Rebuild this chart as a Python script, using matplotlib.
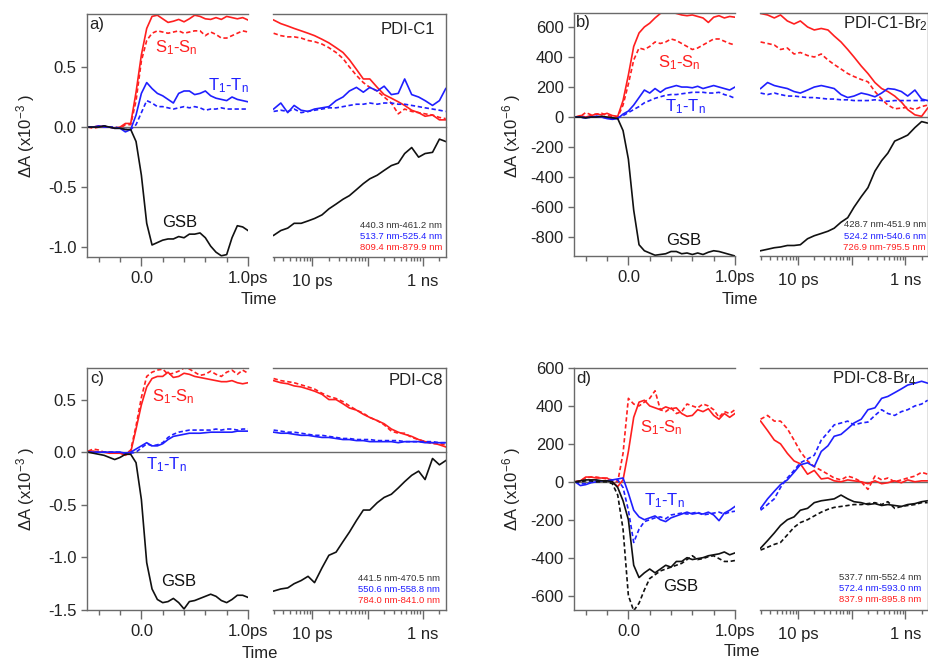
import matplotlib
matplotlib.use('Agg')
import matplotlib.pyplot as plt
from matplotlib.lines import Line2D
from matplotlib.ticker import FixedLocator, LogLocator, NullFormatter, FixedFormatter, NullLocator
import matplotlib.transforms as mtransforms

plt.rcParams['font.family'] = ['Liberation Sans', 'DejaVu Sans']
plt.rcParams['mathtext.default'] = 'regular'
plt.rcParams['axes.unicode_minus'] = False

# ---------------- data ----------------
t_lin = [-0.5, -0.45, -0.4, -0.35, -0.3, -0.25, -0.2, -0.15, -0.1, -0.05, 0.0, 0.05, 0.1, 0.15, 0.2,
         0.25, 0.3, 0.35, 0.4, 0.45, 0.5, 0.55, 0.6, 0.65, 0.7, 0.75, 0.8, 0.85, 0.9, 0.95, 1.0]
t_log = [2.0, 2.7, 3.6, 4.7, 6.3, 8.4, 11, 15, 20, 27, 36, 47, 63, 84, 110, 150, 200, 270, 360, 470,
         630, 840, 1100, 1500, 2000, 2600]

# panel a (x1e-3)
a_red_lin = [0.0, 0.0, 0.01, 0.0, 0.0, -0.01, 0.0, 0.03, 0.03, 0.29, 0.60, 0.82, 0.92, 0.93, 0.90, 0.87, 0.88, 0.895, 0.875, 0.90, 0.93, 0.92, 0.90, 0.895, 0.91, 0.895, 0.92, 0.91, 0.90, 0.91, 0.89]
a_redd_lin = [0.0, -0.01, 0.0, 0.01, 0.0, 0.0, -0.01, 0.02, 0.02, 0.22, 0.55, 0.72, 0.78, 0.80, 0.79, 0.78, 0.79, 0.80, 0.78, 0.79, 0.80, 0.80, 0.76, 0.79, 0.77, 0.74, 0.74, 0.76, 0.78, 0.80, 0.79]
a_blue_lin = [0.0, 0.0, 0.01, 0.0, 0.0, -0.01, -0.01, -0.04, -0.02, 0.10, 0.28, 0.37, 0.32, 0.28, 0.26, 0.23, 0.20, 0.28, 0.30, 0.30, 0.27, 0.28, 0.30, 0.26, 0.24, 0.23, 0.22, 0.25, 0.23, 0.22, 0.21]
a_blued_lin = [0.0, 0.0, 0.0, 0.01, 0.0, 0.0, -0.01, -0.02, -0.02, 0.02, 0.12, 0.22, 0.20, 0.17, 0.17, 0.16, 0.15, 0.16, 0.17, 0.16, 0.17, 0.16, 0.14, 0.15, 0.15, 0.16, 0.15, 0.15, 0.15, 0.15, 0.15]
a_black_lin = [0.0, 0.0, 0.0, 0.01, 0.0, -0.01, -0.01, -0.02, -0.02, -0.12, -0.40, -0.80, -0.98, -0.96, -0.94, -0.93, -0.93, -0.91, -0.92, -0.89, -0.89, -0.88, -0.92, -0.99, -1.04, -1.07, -1.06, -0.92, -0.82, -0.83, -0.86]
a_red_log = [0.89, 0.86, 0.84, 0.82, 0.80, 0.78, 0.76, 0.73, 0.70, 0.66, 0.62, 0.56, 0.48, 0.40, 0.40, 0.33, 0.27, 0.24, 0.21, 0.18, 0.14, 0.12, 0.09, 0.10, 0.06, 0.06]
a_redd_log = [0.78, 0.76, 0.75, 0.75, 0.74, 0.72, 0.71, 0.69, 0.66, 0.62, 0.57, 0.50, 0.43, 0.37, 0.33, 0.30, 0.25, 0.20, 0.11, 0.15, 0.13, 0.12, 0.11, 0.10, 0.08, 0.07]
a_blue_log = [0.15, 0.20, 0.12, 0.18, 0.14, 0.13, 0.15, 0.16, 0.17, 0.22, 0.25, 0.30, 0.33, 0.29, 0.33, 0.30, 0.34, 0.27, 0.28, 0.40, 0.27, 0.25, 0.22, 0.18, 0.22, 0.32]
a_blued_log = [0.13, 0.14, 0.13, 0.15, 0.12, 0.13, 0.14, 0.15, 0.16, 0.16, 0.17, 0.18, 0.19, 0.19, 0.20, 0.19, 0.20, 0.20, 0.19, 0.19, 0.18, 0.17, 0.16, 0.15, 0.14, 0.13]
a_black_log = [-0.90, -0.86, -0.84, -0.80, -0.80, -0.78, -0.76, -0.73, -0.68, -0.64, -0.60, -0.57, -0.52, -0.47, -0.43, -0.40, -0.36, -0.32, -0.30, -0.22, -0.17, -0.25, -0.22, -0.21, -0.10, -0.12]

# panel b (x1e-6)
b_red_lin = [0, 10, 0, 10, 20, 15, 25, 10, 5, 110, 280, 470, 560, 600, 625, 660, 690, 700, 700, 690, 680, 675, 680, 670, 660, 630, 665, 675, 660, 670, 665]
b_redd_lin = [0, 5, 30, 15, 20, 25, 10, 5, 0, 80, 220, 380, 460, 450, 470, 500, 490, 500, 520, 510, 490, 470, 450, 460, 480, 500, 520, 520, 505, 490, 480]
b_blue_lin = [0, 0, -5, 0, 5, 0, -10, -15, -10, 20, 40, 80, 130, 180, 160, 190, 165, 190, 200, 210, 200, 200, 195, 205, 190, 200, 210, 200, 190, 180, 200]
b_blued_lin = [0, 0, -5, 0, 5, 0, -5, -10, -5, 10, 30, 50, 70, 95, 110, 125, 135, 145, 150, 150, 155, 160, 165, 165, 165, 160, 160, 165, 150, 140, 125]
b_black_lin = [0, 0, -5, 0, 0, 5, 0, -5, -10, -90, -280, -620, -850, -890, -905, -920, -915, -910, -895, -895, -910, -905, -915, -905, -915, -900, -890, -895, -905, -915, -925]
b_red_log = [690, 680, 660, 680, 640, 620, 640, 600, 580, 590, 580, 540, 500, 450, 400, 340, 290, 230, 190, 170, 140, 100, 50, 15, 5, 60]
b_redd_log = [500, 490, 480, 450, 460, 420, 430, 410, 400, 420, 380, 350, 320, 290, 270, 250, 235, 170, 120, 80, 55, 60, 65, 50, 70, 80]
b_blue_log = [190, 230, 210, 200, 190, 170, 160, 180, 200, 210, 200, 190, 150, 130, 140, 160, 150, 135, 160, 190, 185, 170, 140, 180, 120, 110]
b_blued_log = [160, 150, 160, 150, 140, 140, 135, 130, 130, 125, 120, 120, 115, 115, 110, 110, 110, 115, 110, 105, 110, 110, 110, 110, 110, 110]
b_black_log = [-890, -880, -870, -865, -855, -855, -850, -810, -790, -775, -760, -740, -700, -670, -600, -530, -470, -360, -290, -240, -160, -140, -120, -70, -30, -40]

# panel c (x1e-3)
c_red_lin = [0.01, 0.01, 0.0, 0.0, -0.01, -0.01, -0.01, -0.03, 0.0, 0.22, 0.45, 0.62, 0.70, 0.72, 0.72, 0.76, 0.71, 0.72, 0.75, 0.74, 0.72, 0.71, 0.70, 0.69, 0.68, 0.67, 0.67, 0.68, 0.66, 0.65, 0.66]
c_redd_lin = [0.01, 0.03, 0.02, 0.0, 0.0, 0.0, -0.01, -0.02, 0.02, 0.25, 0.52, 0.72, 0.76, 0.78, 0.79, 0.74, 0.75, 0.77, 0.80, 0.79, 0.76, 0.73, 0.74, 0.77, 0.74, 0.72, 0.76, 0.78, 0.74, 0.78, 0.75]
c_blue_lin = [0.0, 0.0, 0.0, 0.0, 0.0, 0.0, 0.0, -0.01, 0.0, 0.03, 0.06, 0.09, 0.06, 0.06, 0.08, 0.12, 0.15, 0.16, 0.17, 0.18, 0.18, 0.18, 0.185, 0.19, 0.19, 0.19, 0.19, 0.19, 0.20, 0.20, 0.20]
c_blued_lin = [0.0, 0.0, 0.0, 0.0, 0.0, 0.0, 0.0, -0.01, -0.01, 0.0, 0.04, 0.08, 0.06, 0.07, 0.09, 0.14, 0.17, 0.19, 0.20, 0.21, 0.21, 0.21, 0.21, 0.21, 0.22, 0.21, 0.22, 0.22, 0.21, 0.22, 0.22]
c_black_lin = [0.0, -0.01, -0.02, -0.03, -0.05, -0.07, -0.05, -0.02, -0.02, -0.10, -0.45, -1.05, -1.30, -1.40, -1.43, -1.42, -1.39, -1.43, -1.49, -1.42, -1.41, -1.39, -1.37, -1.35, -1.37, -1.41, -1.43, -1.40, -1.36, -1.36, -1.38]
c_red_log = [0.68, 0.66, 0.65, 0.63, 0.62, 0.60, 0.58, 0.55, 0.50, 0.50, 0.46, 0.42, 0.40, 0.36, 0.33, 0.30, 0.27, 0.22, 0.19, 0.17, 0.15, 0.12, 0.10, 0.09, 0.07, 0.05]
c_redd_log = [0.70, 0.68, 0.67, 0.66, 0.64, 0.62, 0.60, 0.56, 0.53, 0.51, 0.48, 0.44, 0.40, 0.37, 0.33, 0.30, 0.26, 0.20, 0.18, 0.18, 0.14, 0.12, 0.10, 0.08, 0.08, 0.07]
c_blue_log = [0.19, 0.18, 0.18, 0.17, 0.16, 0.16, 0.15, 0.14, 0.14, 0.13, 0.12, 0.12, 0.11, 0.11, 0.10, 0.10, 0.10, 0.10, 0.09, 0.10, 0.10, 0.10, 0.09, 0.09, 0.09, 0.09]
c_blued_log = [0.21, 0.20, 0.19, 0.19, 0.18, 0.17, 0.16, 0.16, 0.15, 0.14, 0.13, 0.13, 0.12, 0.12, 0.12, 0.11, 0.11, 0.11, 0.11, 0.10, 0.10, 0.10, 0.10, 0.10, 0.09, 0.09]
c_black_log = [-1.32, -1.30, -1.29, -1.25, -1.22, -1.18, -1.24, -1.10, -0.98, -0.95, -0.85, -0.76, -0.65, -0.55, -0.55, -0.48, -0.43, -0.40, -0.34, -0.28, -0.22, -0.18, -0.26, -0.06, -0.12, -0.08]

# panel d (x1e-6)
d_red_lin = [0, 5, 25, 25, 20, 20, 20, 0, -25, 10, 160, 340, 420, 430, 400, 390, 380, 395, 385, 390, 360, 345, 350, 380, 370, 385, 350, 330, 360, 340, 360]
d_redd_lin = [0, 5, 20, 25, 25, 20, 15, 10, 0, 150, 440, 410, 400, 420, 440, 480, 380, 370, 390, 360, 370, 410, 400, 390, 410, 400, 380, 340, 370, 360, 380]
d_blue_lin = [0, -20, -15, -5, 0, 5, 5, 10, 15, 20, -60, -150, -185, -200, -190, -180, -200, -210, -190, -180, -170, -160, -170, -165, -170, -160, -175, -205, -165, -150, -130]
d_blued_lin = [0, -10, -10, 0, 5, 5, 5, 10, 10, -30, -150, -320, -250, -210, -200, -190, -185, -195, -175, -170, -165, -170, -165, -160, -175, -170, -165, -160, -170, -160, -155]
d_black_lin = [0, 5, 10, 10, 10, 5, 5, 0, -30, -100, -200, -440, -505, -480, -460, -480, -460, -440, -450, -420, -420, -400, -410, -405, -400, -390, -385, -380, -370, -385, -375]
d_blackd_lin = [0, 0, 5, 5, 0, 0, 0, -10, -70, -250, -600, -680, -640, -570, -510, -490, -470, -460, -450, -440, -430, -410, -390, -410, -405, -395, -390, -405, -420, -420, -415]
d_red_log = [320, 270, 220, 200, 150, 110, 95, 40, 60, 15, 20, 5, 0, 10, 5, 0, -10, 5, -10, -5, 5, -5, 10, 0, 5, 5]
d_redd_log = [330, 350, 320, 320, 280, 220, 160, 110, 80, 60, 40, 20, 10, 30, 20, 0, -40, 30, 10, 20, 0, 10, 20, 30, 50, 40]
d_blue_log = [-140, -90, -50, -15, 10, 50, 90, 100, 80, 160, 190, 240, 250, 280, 310, 330, 380, 390, 440, 450, 470, 490, 510, 520, 530, 520]
d_blued_log = [-150, -120, -90, -30, 20, 60, 100, 120, 140, 220, 260, 300, 310, 320, 300, 310, 315, 350, 380, 360, 350, 370, 380, 400, 410, 430]
d_black_log = [-350, -310, -270, -230, -200, -185, -150, -140, -110, -100, -95, -90, -70, -90, -105, -110, -120, -115, -125, -120, -125, -130, -120, -115, -105, -100]
d_blackd_log = [-360, -345, -330, -320, -280, -240, -215, -200, -180, -160, -145, -135, -130, -125, -120, -120, -115, -110, -120, -105, -140, -130, -125, -120, -110, -110]

a_yticks = [-1.0, -0.5, 0.0, 0.5]
a_yticklabels = ['-1.0', '-0.5', '0.0', '0.5']
b_yticks = [-800, -600, -400, -200, 0, 200, 400, 600]
b_yticklabels = ['-800', '-600', '-400', '-200', '0', '200', '400', '600']
c_yticks = [-1.5, -1.0, -0.5, 0.0, 0.5]
c_yticklabels = ['-1.5', '-1.0', '-0.5', '0.0', '0.5']
d_yticks = [-600, -400, -200, 0, 200, 400, 600]
d_yticklabels = ['-600', '-400', '-200', '0', '200', '400', '600']

lin_ticks = [0.0, 1.0]
lin_ticklabels = ['0.0', '1.0ps']
log_ticks = [10, 100, 1000]
log_ticklabels = ['10 ps', '', '1 ns']

a_legend = ['440.3 nm-461.2 nm', '513.7 nm-525.4 nm', '809.4 nm-879.9 nm']
b_legend = ['428.7 nm-451.9 nm', '524.2 nm-540.6 nm', '726.9 nm-795.5 nm']
c_legend = ['441.5 nm-470.5 nm', '550.6 nm-558.8 nm', '784.0 nm-841.0 nm']
d_legend = ['537.7 nm-552.4 nm', '572.4 nm-593.0 nm', '837.9 nm-895.8 nm']

# ---------------- layout ----------------
W, H = 929, 660
RED = '#ff1f1f'
BLUE = '#1f1fff'
BLACK = '#111111'
FRAME = '#6a6a6a'
FS = 12
DASH = (0, (2.6, 1.6))

fig = plt.figure(figsize=(W / 100, H / 100), dpi=100)


def rect(x0, x1, y0, y1):
    return [x0 / W, 1 - y1 / H, (x1 - x0) / W, (y1 - y0) / H]


panels = [
    dict(L=(87, 248), R=(273, 446), Y=(14, 257), ylim=(-1.08, 0.94),
         yt=a_yticks, ytl=a_yticklabels,
         lin=[(a_red_lin, RED, '-'), (a_redd_lin, RED, DASH), (a_blue_lin, BLUE, '-'),
              (a_blued_lin, BLUE, DASH), (a_black_lin, BLACK, '-')],
         log=[(a_red_log, RED, '-'), (a_redd_log, RED, DASH), (a_blue_log, BLUE, '-'),
              (a_blued_log, BLUE, DASH), (a_black_log, BLACK, '-')],
         ylabel='ΔA (x10$^{-3}$ )', ylab_xy=(26, 136), time_xy=(259, 299),
         tag='a)', tag_xy=(89, 24), name='PDI-C1', name_xy=(435, 30), name_ha='right',
         leg=a_legend, leg_x=442, leg_y=(226, 236.5, 247),
         S_xy=(155, 52.5), T_xy=(208, 90.5), G_xy=(162, 226.5)),
    dict(L=(574, 735), R=(760, 928), Y=(13, 256), ylim=(-925, 693),
         yt=b_yticks, ytl=b_yticklabels,
         lin=[(b_red_lin, RED, '-'), (b_redd_lin, RED, DASH), (b_blue_lin, BLUE, '-'),
              (b_blued_lin, BLUE, DASH), (b_black_lin, BLACK, '-')],
         log=[(b_red_log, RED, '-'), (b_redd_log, RED, DASH), (b_blue_log, BLUE, '-'),
              (b_blued_log, BLUE, DASH), (b_black_log, BLACK, '-')],
         ylabel='ΔA (x10$^{-6}$ )', ylab_xy=(512, 136), time_xy=(740, 299),
         tag='b)', tag_xy=(576, 23), name='PDI-C1-Br$_2$', name_xy=(843, 24), name_ha='left',
         leg=b_legend, leg_x=926, leg_y=(225, 236, 247),
         S_xy=(657.5, 67.5), T_xy=(665, 111), G_xy=(666, 245)),
    dict(L=(87, 248), R=(273, 446), Y=(368, 610), ylim=(-1.5, 0.80),
         yt=c_yticks, ytl=c_yticklabels,
         lin=[(c_red_lin, RED, '-'), (c_redd_lin, RED, DASH), (c_blue_lin, BLUE, '-'),
              (c_blued_lin, BLUE, DASH), (c_black_lin, BLACK, '-')],
         log=[(c_red_log, RED, '-'), (c_redd_log, RED, DASH), (c_blue_log, BLUE, '-'),
              (c_blued_log, BLUE, DASH), (c_black_log, BLACK, '-')],
         ylabel='ΔA (x10$^{-3}$ )', ylab_xy=(26, 489), time_xy=(260, 653),
         tag='c)', tag_xy=(90, 379), name='PDI-C8', name_xy=(443, 380), name_ha='right',
         leg=c_legend, leg_x=440, leg_y=(578.5, 589.5, 600.5),
         S_xy=(152.5, 401.5), T_xy=(145.5, 469), G_xy=(161, 585.5)),
    dict(L=(574, 735), R=(760, 928), Y=(368, 610), ylim=(-676, 600),
         yt=d_yticks, ytl=d_yticklabels,
         lin=[(d_red_lin, RED, '-'), (d_redd_lin, RED, DASH), (d_blue_lin, BLUE, '-'),
              (d_blued_lin, BLUE, DASH), (d_black_lin, BLACK, '-'), (d_blackd_lin, BLACK, DASH)],
         log=[(d_red_log, RED, '-'), (d_redd_log, RED, DASH), (d_blue_log, BLUE, '-'),
              (d_blued_log, BLUE, DASH), (d_black_log, BLACK, '-'), (d_blackd_log, BLACK, DASH)],
         ylabel='ΔA (x10$^{-6}$ )', ylab_xy=(512, 489), time_xy=(742, 652),
         tag='d)', tag_xy=(576, 379), name='PDI-C8-Br$_4$', name_xy=(832, 379), name_ha='left',
         leg=d_legend, leg_x=921, leg_y=(577.5, 588.5, 599.5),
         S_xy=(640, 432.5), T_xy=(644, 505.5), G_xy=(663, 591)),
]


def fx(x):
    return x / W


def fy(y):
    return 1 - y / H


for p in panels:
    y0, y1 = p['Y']
    axL = fig.add_axes(rect(p['L'][0], p['L'][1], y0, y1))
    axR = fig.add_axes(rect(p['R'][0], p['R'][1], y0, y1))
    for ax in (axL, axR):
        ax.set_facecolor('none')
        ax.set_ylim(*p['ylim'])
        for s in ax.spines.values():
            s.set_color(FRAME)
            s.set_linewidth(1.0)
    axL.spines['right'].set_visible(False)
    axR.spines['left'].set_visible(False)

    # left (linear) axis
    axL.set_xlim(-0.51, 1.0)
    axL.xaxis.set_major_locator(FixedLocator(lin_ticks))
    axL.xaxis.set_major_formatter(FixedFormatter(lin_ticklabels))
    axL.xaxis.set_minor_locator(FixedLocator([-0.4, -0.2, 0.2, 0.4, 0.6, 0.8]))
    axL.yaxis.set_major_locator(FixedLocator(p['yt']))
    axL.yaxis.set_major_formatter(FixedFormatter(p['ytl']))
    axL.tick_params(axis='both', which='both', direction='out', color=FRAME, width=1.0,
                    labelsize=FS, labelcolor='#222222')
    axL.tick_params(axis='x', which='major', length=6.5, pad=3.5)
    axL.tick_params(axis='x', which='minor', length=3.6)
    axL.tick_params(axis='y', which='major', length=4.5, pad=3)

    # right (log) axis
    axR.set_xscale('log')
    axR.set_xlim(1.95, 2630)
    axR.xaxis.set_major_locator(FixedLocator(log_ticks))
    axR.xaxis.set_major_formatter(FixedFormatter(log_ticklabels))
    axR.xaxis.set_minor_locator(LogLocator(base=10, subs=[2, 3, 4, 5, 6, 7, 8, 9]))
    axR.xaxis.set_minor_formatter(NullFormatter())
    axR.yaxis.set_major_locator(NullLocator())
    axR.yaxis.set_minor_locator(NullLocator())
    axR.tick_params(axis='x', which='both', direction='out', color=FRAME, width=1.0,
                    labelsize=FS, labelcolor='#222222')
    axR.tick_params(axis='x', which='major', length=6.5, pad=6)
    axR.tick_params(axis='x', which='minor', length=3)

    for vals, col, ls in p['lin']:
        axL.plot(t_lin, vals, color=col, lw=1.2, linestyle=ls)
    for vals, col, ls in p['log']:
        axR.plot(t_log, vals, color=col, lw=1.2, linestyle=ls)

    # continuous zero line across both axes
    tr = mtransforms.blended_transform_factory(fig.transFigure, axL.transData)
    fig.add_artist(Line2D([fx(p['L'][0]), fx(p['R'][1])], [0, 0], transform=tr,
                          color=FRAME, lw=1.0, zorder=-1))

    fig.text(fx(p['ylab_xy'][0]), fy(p['ylab_xy'][1]), p['ylabel'], rotation=90,
             ha='center', va='center', fontsize=FS, color='#222222')
    fig.text(fx(p['time_xy'][0]), fy(p['time_xy'][1]), 'Time', ha='center', va='center',
             fontsize=FS, color='#222222')
    fig.text(fx(p['tag_xy'][0]), fy(p['tag_xy'][1]), p['tag'], ha='left', va='center',
             fontsize=FS, color='#222222')
    fig.text(fx(p['name_xy'][0]), fy(p['name_xy'][1]), p['name'], ha=p['name_ha'],
             va='center', fontsize=FS, color='#222222')
    for txt, col, yy in zip(p['leg'], ['#333333', BLUE, RED], p['leg_y']):
        fig.text(fx(p['leg_x']), fy(yy), txt, ha='right', va='center', fontsize=6.8, color=col)
    fig.text(fx(p['S_xy'][0]), fy(p['S_xy'][1]), 'S$_1$-S$_n$', ha='left', va='baseline',
             fontsize=FS, color=RED)
    fig.text(fx(p['T_xy'][0]), fy(p['T_xy'][1]), 'T$_1$-T$_n$', ha='left', va='baseline',
             fontsize=FS, color=BLUE)
    fig.text(fx(p['G_xy'][0]), fy(p['G_xy'][1]), 'GSB', ha='left', va='baseline',
             fontsize=FS, color='#111111')

fig.savefig('out.png', dpi=100)
